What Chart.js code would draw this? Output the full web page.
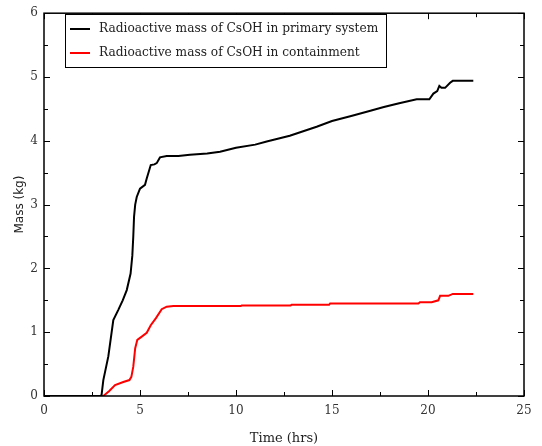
<!DOCTYPE html>
<html><head><meta charset="utf-8">
<script src="https://cdn.jsdelivr.net/npm/chart.js@4/dist/chart.umd.min.js"></script>
<style>html,body{margin:0;padding:0;background:#fff}#wrap{width:542px;height:446px}</style>
</head><body><div id="wrap"><canvas id="c" width="542" height="446"></canvas></div>
<script>
const primaryTime = [0, 2.95, 3.0, 3.09, 3.35, 3.61, 3.87, 4.1, 4.31, 4.51, 4.6, 4.65, 4.69, 4.75, 4.83, 5.0, 5.26, 5.35, 5.56, 5.75, 5.87, 6.04, 6.39, 7.0, 7.6, 8.5, 9.17, 10, 11, 11.6, 12.8, 14.2, 15, 16, 17, 17.7, 18.5, 19.41, 20.07, 20.28, 20.48, 20.59, 20.7, 20.89, 21.15, 21.29, 22.36];
const primaryMass = [0, 0, 0.02, 0.25, 0.62, 1.19, 1.35, 1.5, 1.66, 1.92, 2.2, 2.5, 2.81, 3.0, 3.12, 3.25, 3.31, 3.41, 3.62, 3.63, 3.65, 3.74, 3.76, 3.76, 3.78, 3.80, 3.83, 3.89, 3.94, 3.99, 4.08, 4.22, 4.31, 4.39, 4.47, 4.53, 4.59, 4.65, 4.65, 4.74, 4.78, 4.86, 4.83, 4.83, 4.91, 4.94, 4.94];
const containTime = [0, 3.09, 3.4, 3.70, 4.13, 4.45, 4.55, 4.65, 4.75, 4.86, 5.09, 5.35, 5.56, 5.83, 6.13, 6.39, 6.74, 10.25, 10.3, 12.85, 12.9, 14.85, 14.9, 19.5, 19.58, 20.19, 20.54, 20.63, 21.06, 21.29, 22.36];
const containMass = [0, 0, 0.08, 0.17, 0.22, 0.25, 0.3, 0.46, 0.75, 0.88, 0.93, 0.99, 1.11, 1.22, 1.36, 1.40, 1.41, 1.41, 1.42, 1.42, 1.43, 1.43, 1.45, 1.45, 1.47, 1.47, 1.50, 1.57, 1.57, 1.60, 1.60];
const seriesLabels = ["Radioactive mass of CsOH in primary system", "Radioactive mass of CsOH in containment"];
const xTicks = [0, 5, 10, 15, 20, 25];
const yTicks = [0, 1, 2, 3, 4, 5, 6];

const FONT = "'DejaVu Serif', serif";
const SANS = "'DejaVu Sans', sans-serif";
const toXY = (ts, vs) => ts.map((t, i) => ({x: t, y: vs[i]}));

const frame = {
  id: 'frame',
  afterDatasetsDraw(chart) {
    const ctx = chart.ctx, a = chart.chartArea, xs = chart.scales.x, ys = chart.scales.y;
    ctx.save();
    ctx.strokeStyle = '#000';
    ctx.lineWidth = 1.5;
    ctx.strokeRect(a.left, a.top, a.right - a.left, a.bottom - a.top);
    ctx.lineWidth = 1;
    ctx.beginPath();
    for (let v = 0; v <= 25; v += 2.5) {
      const p = Math.round(xs.getPixelForValue(v)) + 0.5;
      const len = (v % 5 === 0) ? 6 : 4;
      ctx.moveTo(p, a.bottom); ctx.lineTo(p, a.bottom - len);
      ctx.moveTo(p, a.top); ctx.lineTo(p, a.top + len);
    }
    for (let v = 0; v <= 6; v += 0.5) {
      const p = Math.round(ys.getPixelForValue(v)) + 0.5;
      const len = (v % 1 === 0) ? 6 : 4;
      ctx.moveTo(a.left, p); ctx.lineTo(a.left + len, p);
      ctx.moveTo(a.right, p); ctx.lineTo(a.right - len, p);
    }
    ctx.stroke();
    // legend
    const lx = 65, ly = 14, lw = 321, lh = 53;
    ctx.fillStyle = '#fff';
    ctx.fillRect(lx, ly, lw, lh);
    ctx.strokeStyle = '#000';
    ctx.lineWidth = 1;
    ctx.strokeRect(lx + 0.5, ly + 0.5, lw, lh);
    chart.data.datasets.forEach((ds, i) => {
      const y = ly + 15 + i * 24;
      ctx.strokeStyle = ds.borderColor;
      ctx.lineWidth = 2;
      ctx.beginPath(); ctx.moveTo(70, y); ctx.lineTo(90, y); ctx.stroke();
      ctx.fillStyle = '#222';
      ctx.font = "12.2px " + FONT;
      ctx.textBaseline = 'middle';
      ctx.fillText(ds.label, 99, y);
    });
    ctx.restore();
  }
};

new Chart(document.getElementById('c'), {
  type: 'line',
  data: {
    datasets: [
      {label: seriesLabels[0], data: toXY(primaryTime, primaryMass), borderColor: '#000', borderWidth: 2, pointRadius: 0, tension: 0},
      {label: seriesLabels[1], data: toXY(containTime, containMass), borderColor: '#ff0000', borderWidth: 2, pointRadius: 0, tension: 0}
    ]
  },
  options: {
    responsive: false,
    animation: false,
    layout: {padding: {top: 13, right: 18, left: 0, bottom: 0}},
    plugins: {legend: {display: false}, tooltip: {enabled: false}},
    scales: {
      x: {
        type: 'linear', min: 0, max: 25,
        afterBuildTicks: s => { s.ticks = xTicks.map(v => ({value: v})); },
        afterFit: s => { s.height = 50; },
        grid: {display: false, drawTicks: false},
        border: {display: false},
        ticks: {color: '#333', font: {family: FONT, size: 12}, padding: 8, maxRotation: 0},
        title: {display: true, text: 'Time (hrs)', color: '#222', font: {family: FONT, size: 13}, padding: {top: 0, bottom: 0}}
      },
      y: {
        type: 'linear', min: 0, max: 6,
        afterBuildTicks: s => { s.ticks = yTicks.map(v => ({value: v})); },
        afterFit: s => { s.width = 44; },
        grid: {display: false, drawTicks: false},
        border: {display: false},
        ticks: {color: '#333', font: {family: FONT, size: 12}, padding: 6},
        title: {display: true, text: 'Mass (kg)', color: '#222', font: {family: SANS, size: 12}, padding: {top: 13, bottom: 0}}
      }
    }
  },
  plugins: [frame]
});
</script></body></html>
